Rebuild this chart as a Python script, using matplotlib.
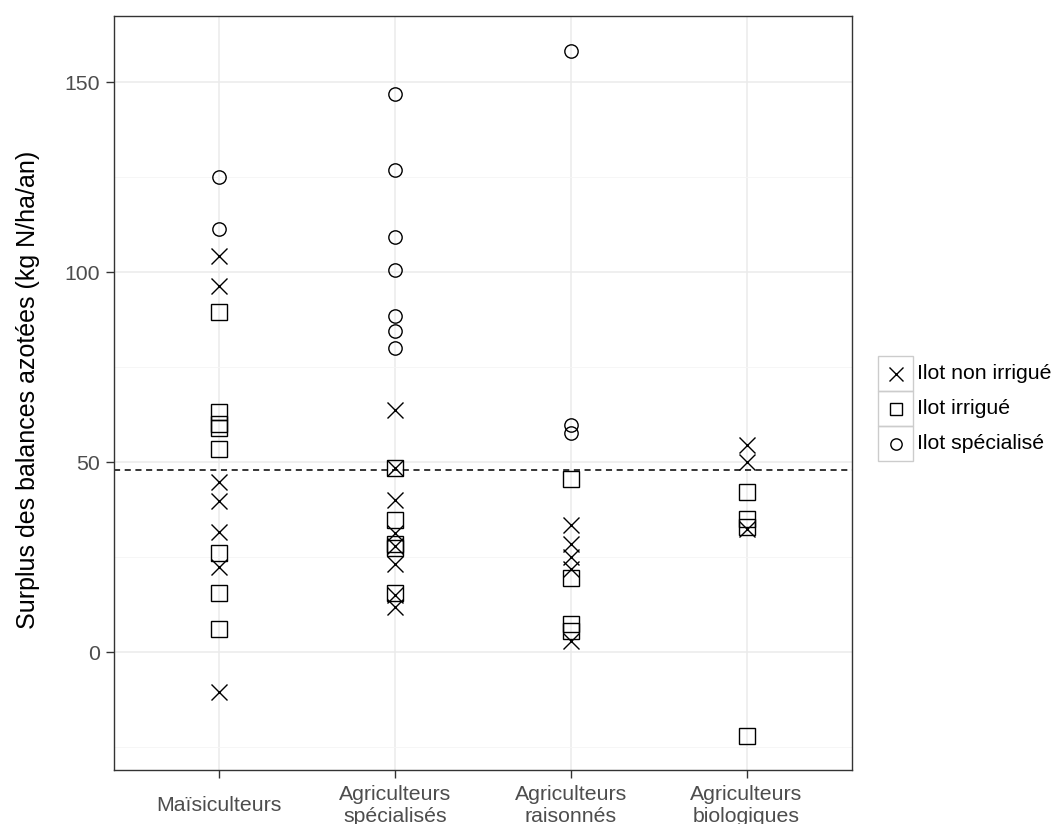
"""Surplus des balances azotées par type d'agriculteur et type d'îlot.
Style proche de ggplot2 theme_bw. Agg, sortie out.png 1057x824."""
import matplotlib
matplotlib.use("Agg")
import matplotlib.pyplot as plt  # noqa: E402
from matplotlib.patches import Rectangle  # noqa: E402
from matplotlib.ticker import MultipleLocator  # noqa: E402

plt.rcParams.update({"font.family": ["Liberation Sans", "DejaVu Sans"]})

GROUPS = ["Maïsiculteurs", "Agriculteurs\nspécialisés",
          "Agriculteurs\nraisonnés", "Agriculteurs\nbiologiques"]

# valeurs lues par groupe (index 0..3)
NON_IRRIGUE = [
    [104.2, 96.3, 44.7, 39.8, 31.7, 22.4, -10.5],
    [63.7, 48.6, 40.0, 31.5, 28.0, 23.3, 15.0, 12.0],
    [33.5, 28.5, 25.0, 22.0, 3.0],
    [54.5, 50.1, 32.5],
]
IRRIGUE = [
    [89.7, 63.3, 60.0, 59.0, 53.4, 26.1, 15.6, 6.2],
    [48.6, 34.7, 28.5, 27.5, 15.5],
    [45.5, 19.5, 7.5, 5.5],
    [42.2, 35.0, 33.0, -22.0],
]
SPECIALISE = [
    [125.1, 111.3],
    [147.0, 127.0, 109.3, 100.5, 88.4, 84.6, 80.2],
    [158.4, 59.9, 57.7],
    [],
]
SEUIL = 48.0

SERIES = [("Ilot non irrigué", NON_IRRIGUE, "x", 11.3),
          ("Ilot irrigué", IRRIGUE, "s", 11.0),
          ("Ilot spécialisé", SPECIALISE, "o", 9.6)]

W, H = 1057, 824
TICK_FS, TITLE_FS = 15.3, 18
fig = plt.figure(figsize=(W / 100, H / 100), dpi=100)
ax = fig.add_axes([114 / W, 1 - 770 / H, (852 - 114) / W, (770 - 16) / H])

for label, values, marker, ms in SERIES:
    for i, vals in enumerate(values):
        if not vals:
            continue
        ax.plot([i] * len(vals), vals, ls="", marker=marker, ms=ms,
                mfc="none", mec="black", mew=1.0, zorder=3)

ax.axhline(SEUIL, color="black", lw=1.1, ls=(0, (4, 3)), zorder=2)

ax.set_xlim(-0.6, len(GROUPS) - 0.4)
ax.set_ylim(-31, 167.5)
ax.set_xticks(range(len(GROUPS)))
ax.set_xticklabels(GROUPS, fontsize=TICK_FS, color="#4D4D4D", linespacing=1.2)
for lbl in ax.get_xticklabels():
    lbl.set_va("center")  # étiquettes centrées verticalement, comme ggplot
ax.yaxis.set_major_locator(MultipleLocator(50))
ax.yaxis.set_minor_locator(MultipleLocator(25))
ax.tick_params(axis="y", labelsize=TICK_FS, labelcolor="#4D4D4D", pad=4)
ax.tick_params(axis="x", pad=19.5)
ax.tick_params(which="major", length=6, width=1, color="#333333")
ax.tick_params(which="minor", length=0)
ax.grid(which="major", color="#EBEBEB", lw=1.1, zorder=0)
ax.grid(which="minor", axis="y", color="#F5F5F5", lw=0.6, zorder=0)
ax.set_axisbelow(True)
for sp in ax.spines.values():
    sp.set_color("#333333")
    sp.set_linewidth(1.0)
fig.text(28 / W, 1 - 390 / H, "Surplus des balances azotées (kg N/ha/an)",
         rotation=90, ha="center", va="center", fontsize=TITLE_FS)

# légende façon ggplot : une case grise par clé
lax = fig.add_axes([0, 0, 1, 1], facecolor="none")
lax.set_xlim(0, W)
lax.set_ylim(H, 0)
lax.axis("off")
key, x0, y0 = 35, 878, 356
for j, (label, _, marker, ms) in enumerate(SERIES):
    top = y0 + j * key
    lax.add_patch(Rectangle((x0, top), key, key, fill=False,
                            ec="#CCCCCC", lw=1))
    lax.plot([x0 + key / 2], [top + key / 2], ls="", marker=marker,
             ms=ms * 0.85, mfc="none", mec="black", mew=1.0)
    lax.text(x0 + key + 4, top + key / 2, label, fontsize=TICK_FS,
             va="center", ha="left", color="black")

fig.savefig("out.png", dpi=100)
